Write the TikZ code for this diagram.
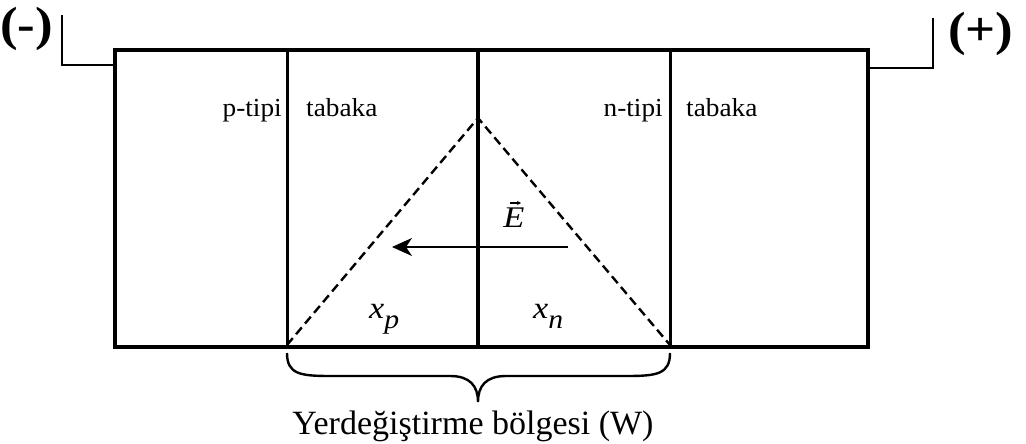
\documentclass[tikz,border=0pt]{standalone}
\usepackage{fontspec}
\setmainfont{Liberation Serif}
\usetikzlibrary{arrows.meta}
\newcommand{\wide}[2][1.1]{\scalebox{#1}[1]{#2}}
\tikzset{
  wall/.style={line width=3pt},
  wire/.style={line width=2.4pt},
  dashline/.style={line width=2.4pt, dash pattern=on 9pt off 5pt},
  lbl/.style={inner sep=0pt, font=\fontsize{26}{28}\selectfont},
  pol/.style={inner sep=0pt, font=\fontsize{48}{50}\selectfont\bfseries},
  mathlbl/.style={inner sep=0pt, font=\fontsize{31}{34}\selectfont\itshape},
}
\begin{document}
\begin{tikzpicture}[x=1pt,y=-1pt]
\useasboundingbox (0,0) rectangle (1026,444);
% main block
\node[draw, line width=3.6pt, minimum width=753pt, minimum height=297pt, inner sep=0pt, anchor=north west] (box) at (113,48) {};
% internal dividers
\coordinate (pt) at (287,48);  \coordinate (pb) at (287,345);
\coordinate (ct) at (478,48);  \coordinate (cb) at (478,345);
\coordinate (nt) at (670,48);  \coordinate (nb) at (670,345);
\draw[wall] (pt) -- (pb);
\draw[line width=3.4pt] (ct) -- (cb);
\draw[wall] (nt) -- (nb);
% wires
\coordinate (lw1) at (113,65); \coordinate (lw2) at (62,65); \coordinate (lw3) at (62,15);
\coordinate (rw1) at (866,68); \coordinate (rw2) at (933,68); \coordinate (rw3) at (933,18);
\draw[wire] (lw1) -- (lw2) -- (lw3);
\draw[wire] (rw1) -- (rw2) -- (rw3);
\node[pol, anchor=base west] (minus) at (0,41) {\wide{(-)}};
\node[pol, anchor=base west] (plus) at (948,46) {\wide{(+)}};
% triangle
\coordinate (apex) at (478,118);
\draw[dashline] (pb) -- (apex) -- (nb);
% field arrow
\coordinate (ea) at (568,247); \coordinate (eb) at (392,247);
\draw[line width=2.2pt, -{Stealth[length=20pt,width=18pt,inset=6pt]}] (ea) -- (eb);
\node[inner sep=0pt, anchor=base, font=\fontsize{30}{32}\selectfont\itshape] (E) at (514,227) {\wide[1.15]{E}};
\draw[line width=1.6pt, -{Stealth[length=4pt,width=4pt]}] ([xshift=-4pt,yshift=24pt]E.base) -- ([xshift=7pt,yshift=24pt]E.base);
% labels
\node[lbl, anchor=base east] (ptipi) at (282,116) {\wide[1.05]{p-tipi}};
\node[lbl, anchor=base west] (ptab) at (306,116) {\wide[1.05]{tabaka}};
\node[lbl, anchor=base east] (ntipi) at (663,116) {\wide[1.05]{n-tipi}};
\node[lbl, anchor=base west] (ntab) at (686,116) {\wide[1.05]{tabaka}};
\node[mathlbl, anchor=base west] (xp) at (369,318) {\wide{x\raisebox{-10pt}{\fontsize{27}{28}\selectfont p}}};
\node[mathlbl, anchor=base west] (xn) at (533,318) {\wide{x\raisebox{-10pt}{\fontsize{27}{28}\selectfont n}}};
% brace
\coordinate (bl) at (287,353); \coordinate (br) at (670,353); \coordinate (tip) at (478,402);
\draw[line width=2.4pt] (bl) .. controls (287,374) and (300,376) .. (330,376) -- (450,376)
  .. controls (470,376) and (478,386) .. (tip)
  .. controls (478,386) and (486,376) .. (506,376) -- (627,376)
  .. controls (657,376) and (670,374) .. (br);
\node[inner sep=0pt, anchor=base, font=\fontsize{34}{36}\selectfont] (W) at (473,434) {Yerdeğiştirme bölgesi (W)};
\end{tikzpicture}
\end{document}
